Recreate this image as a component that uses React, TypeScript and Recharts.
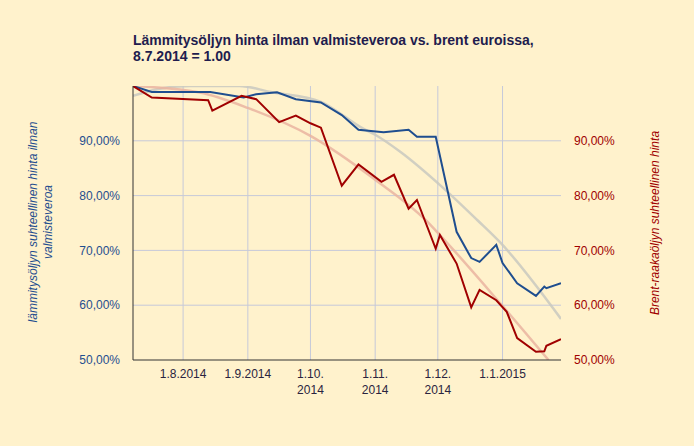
import React from 'react';
import { LineChart, Line, XAxis, YAxis, CartesianGrid } from 'recharts';

// Days counted from 8.7.2014 (= 1.00)
const heatingDays = [0, 9, 37, 53, 59, 69, 78, 90, 100, 108, 120, 132, 136, 145, 155, 162, 166, 174, 177, 184, 193, 197, 198, 205];
const heatingValues = [1.0, 0.989, 0.989, 0.979, 0.985, 0.9885, 0.976, 0.97, 0.947, 0.92, 0.9155, 0.92, 0.9075, 0.9075, 0.734, 0.686, 0.679, 0.71, 0.677, 0.64, 0.617, 0.634, 0.631, 0.64];

const brentDays = [0, 9, 36, 38, 52, 59, 70, 78, 85, 90, 100, 108, 119, 125, 132, 136, 145, 147, 155, 162, 166, 174, 179, 184, 193, 197, 198, 205];
const brentValues = [1.0, 0.979, 0.974, 0.955, 0.982, 0.976, 0.934, 0.946, 0.932, 0.924, 0.818, 0.857, 0.825, 0.838, 0.776, 0.792, 0.703, 0.728, 0.676, 0.596, 0.628, 0.609, 0.588, 0.54, 0.515, 0.516, 0.526, 0.538];

// Trend lines
const heatingTrendDays = [0, 12, 27, 51, 66, 90, 100, 109, 116, 128, 148, 165, 176, 205];
const heatingTrendValues = [0.982, 0.9945, 1.0, 1.0, 0.989, 0.971, 0.948, 0.925, 0.911, 0.88, 0.816, 0.755, 0.714, 0.575];

const brentTrendDays = [0, 32, 55, 85, 116, 140, 147, 176, 199];
const brentTrendValues = [1.0, 0.988, 0.96, 0.909, 0.829, 0.756, 0.728, 0.603, 0.5];

const monthTicks = [24, 55, 85, 116, 146, 177];
const monthTickLabels = [['1.8.2014'], ['1.9.2014'], ['1.10.', '2014'], ['1.11.', '2014'], ['1.12.', '2014'], ['1.1.2015']];

const yTicks = [0.5, 0.6, 0.7, 0.8, 0.9];
const gridYValues = [0.6, 0.7, 0.8, 0.9];

const titleLines = ['Lämmitysöljyn hinta ilman valmisteveroa vs. brent euroissa,', '8.7.2014 = 1.00'];
const leftLabelLines = ['lämmitysöljyn suhteellinen hinta ilman', 'valmisteveroa'];
const rightLabel = 'Brent-raakaöljyn suhteellinen hinta';

const FONT = '"Liberation Sans", Arial, sans-serif';
const BLUE = '#1f4e8f';
const RED = '#a00000';

const toData = (days: number[], values: number[]) => days.map((d, i) => ({ day: d, v: values[i] }));

const heatingData = toData(heatingDays, heatingValues);
const brentData = toData(brentDays, brentValues);
const heatingTrend = toData(heatingTrendDays, heatingTrendValues);
const brentTrend = toData(brentTrendDays, brentTrendValues);

const pct = (v: number) => (v * 100).toFixed(2).replace('.', ',') + '%';

const XTick = (props: any) => {
  const { x, y, payload } = props;
  const idx = monthTicks.indexOf(payload.value);
  const lines = idx >= 0 ? monthTickLabels[idx] : [];
  return (
    <text x={x} y={y} textAnchor="middle" fill="#2a2440" fontSize={12} fontFamily={FONT}>
      {lines.map((l, i) => (
        <tspan key={i} x={x} dy={i === 0 ? 17.5 : 16}>
          {l}
        </tspan>
      ))}
    </text>
  );
};

export default function App() {
  return (
    <div style={{ position: 'fixed', left: 0, top: 0, width: 694, height: 446, background: '#fff2cc' }}>
      <LineChart width={694} height={446} margin={{ top: 86, right: 0, left: 0, bottom: 0 }}>
        <CartesianGrid
          stroke="#c6c9d9"
          strokeWidth={1}
          yAxisId="left"
          horizontalValues={gridYValues}
          verticalValues={monthTicks}
        />
        <XAxis
          type="number"
          dataKey="day"
          domain={[0, 205]}
          ticks={monthTicks}
          height={86}
          tickSize={0}
          tickMargin={0}
          tick={<XTick />}
          axisLine={{ stroke: '#333333', strokeWidth: 1 }}
          tickLine={false}
          allowDataOverflow
        />
        <YAxis
          yAxisId="left"
          orientation="left"
          width={133}
          domain={[0.5, 1]}
          ticks={yTicks}
          tickFormatter={pct}
          tickSize={0}
          tickMargin={13}
          tickLine={false}
          axisLine={{ stroke: '#333333', strokeWidth: 1 }}
          tick={{ fill: BLUE, fontSize: 12, fontFamily: FONT }}
          allowDataOverflow
        />
        <YAxis
          yAxisId="right"
          orientation="right"
          width={133}
          domain={[0.5, 1]}
          ticks={yTicks}
          tickFormatter={pct}
          tickSize={0}
          tickMargin={13}
          tickLine={false}
          axisLine={false}
          tick={{ fill: RED, fontSize: 12, fontFamily: FONT }}
          allowDataOverflow
        />
        <Line
          yAxisId="left"
          data={heatingTrend}
          dataKey="v"
          type="monotone"
          stroke="#c9c9c0"
          strokeOpacity={0.85}
          strokeWidth={2.5}
          dot={false}
          isAnimationActive={false}
        />
        <Line
          yAxisId="right"
          data={brentTrend}
          dataKey="v"
          type="monotone"
          stroke="#eab4a0"
          strokeOpacity={0.85}
          strokeWidth={2.5}
          dot={false}
          isAnimationActive={false}
        />
        <Line
          yAxisId="left"
          data={heatingData}
          dataKey="v"
          type="linear"
          stroke={BLUE}
          strokeWidth={2}
          dot={false}
          isAnimationActive={false}
        />
        <Line
          yAxisId="right"
          data={brentData}
          dataKey="v"
          type="linear"
          stroke={RED}
          strokeWidth={2}
          dot={false}
          isAnimationActive={false}
        />
      </LineChart>
      <svg
        width={694}
        height={446}
        style={{ position: 'absolute', left: 0, top: 0, pointerEvents: 'none' }}
      >
        <text x={133} y={44.5} fontSize={14} fontWeight="bold" fill="#221c4e" fontFamily={FONT}>
          {titleLines[0]}
        </text>
        <text x={133} y={61} fontSize={14} fontWeight="bold" fill="#221c4e" fontFamily={FONT}>
          {titleLines[1]}
        </text>
        <text
          transform="translate(33,222) rotate(-90)"
          textAnchor="middle"
          dominantBaseline="central"
          fontSize={12}
          fontStyle="italic"
          fill={BLUE}
          fontFamily={FONT}
        >
          {leftLabelLines[0]}
        </text>
        <text
          transform="translate(48,222) rotate(-90)"
          textAnchor="middle"
          dominantBaseline="central"
          fontSize={12}
          fontStyle="italic"
          fill={BLUE}
          fontFamily={FONT}
        >
          {leftLabelLines[1]}
        </text>
        <text
          transform="translate(655,223) rotate(-90)"
          textAnchor="middle"
          dominantBaseline="central"
          fontSize={12}
          fontStyle="italic"
          fill={RED}
          fontFamily={FONT}
        >
          {rightLabel}
        </text>
      </svg>
    </div>
  );
}
